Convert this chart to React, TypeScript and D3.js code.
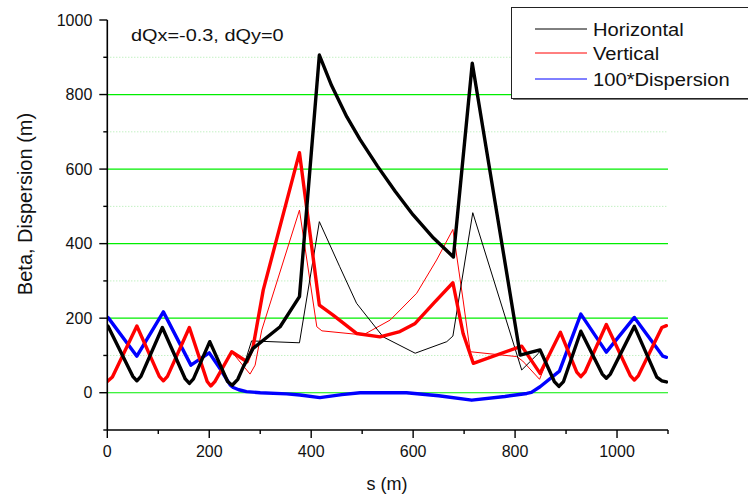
import React from "react";
import * as d3 from "d3";

type P = [number, number];

const xMajor = [0, 200, 400, 600, 800, 1000];
const xMinor = [100, 300, 500, 700, 900, 1100];
const yMajor = [0, 200, 400, 600, 800, 1000];
const yMinor = [-100, 100, 300, 500, 700, 900];
const gridMajor = [0, 200, 400, 600, 800];
const gridMinor = [100, 300, 500, 700, 900];

// thick = dQx=-0.3 case, thin = nominal
const horizThick: P[] = [
  [0, 180], [2, 177], [50, 44], [58, 32], [66, 44], [108, 175], [153, 37], [161, 25], [169, 37],
  [201, 137], [236, 30], [245, 20], [256, 36], [267, 70], [286, 119], [339, 177], [377, 258],
  [416, 906], [440, 824], [470, 740], [496, 679], [530, 608], [565, 540], [600, 477], [640, 415],
  [679, 364], [716, 884], [810, 101], [830, 108], [849, 115], [877, 30], [886, 17], [895, 30],
  [929, 165], [971, 50], [979, 39], [987, 50], [1034, 178], [1078, 42], [1088, 32], [1097, 29],
];
const horizThin: P[] = [
  [0, 180], [2, 177], [50, 44], [58, 32], [66, 44], [108, 175], [153, 37], [161, 25], [169, 37],
  [201, 137], [236, 30], [245, 20], [255, 35], [264, 60], [273, 95], [283, 139], [377, 134],
  [416, 459], [456, 338], [489, 240], [541, 150], [604, 106], [666, 137], [678, 152], [717, 483],
  [813, 61], [846, 106], [849, 115], [877, 30], [886, 17], [895, 30], [929, 165], [971, 50],
  [979, 39], [987, 50], [1034, 178], [1078, 42], [1088, 32], [1097, 29],
];
const vertThick: P[] = [
  [0, 30], [10, 42], [58, 179], [102, 44], [110, 32], [118, 44], [161, 175], [196, 30], [203, 18],
  [211, 30], [244, 110], [274, 83], [286, 123], [306, 276], [377, 644], [416, 235], [443, 208],
  [489, 159], [535, 150], [574, 164], [604, 186], [640, 240], [678, 295], [698, 159], [718, 79],
  [813, 125], [849, 52], [889, 162], [921, 55], [929, 43], [937, 55], [979, 183], [1026, 46],
  [1034, 34], [1042, 46], [1088, 175], [1097, 180],
];
const vertThin: P[] = [
  [0, 30], [10, 42], [58, 179], [102, 44], [110, 32], [118, 44], [161, 175], [196, 30], [203, 18],
  [211, 30], [244, 110], [262, 80], [280, 50], [290, 74], [303, 168], [377, 490], [411, 177],
  [421, 166], [502, 155], [555, 195], [607, 267], [646, 356], [678, 438], [698, 249], [712, 110],
  [803, 97], [815, 85], [848, 36], [870, 110], [889, 162], [921, 55], [929, 43], [937, 55],
  [979, 183], [1026, 46], [1034, 34], [1042, 46], [1088, 175], [1097, 180],
];
const dispersion: P[] = [
  [0, 203], [2, 201], [58, 98], [110, 217], [164, 74], [200, 107], [221, 65], [241, 21], [247, 14],
  [258, 8], [273, 3], [300, 0], [352, -3], [378, -6], [417, -13], [460, -5], [496, 0], [587, 0],
  [650, -8], [715, -20], [780, -10], [823, -2], [832, 1], [849, 16], [887, 58], [929, 211],
  [979, 109], [1034, 202], [1090, 98], [1097, 95],
];

const legendItems = [
  { label: "Horizontal", color: "#000" },
  { label: "Vertical", color: "#ff0000" },
  { label: "100*Dispersion", color: "#0000ff" },
];

const FONT = "'Liberation Sans', Arial, sans-serif";

export default function App() {
  const W = 748, H = 496;
  const x = d3.scaleLinear().domain([0, 1100]).range([107.3, 668]);
  const y = d3.scaleLinear().domain([-100, 1000]).range([430, 20]);
  const line = d3.line<P>().x((d) => x(d[0])).y((d) => y(d[1]));
  const x0 = x(0), x1 = x(1100), yb = y(-100), yt = y(1000);

  return (
    <svg width={W} height={H} style={{ position: "absolute", left: 0, top: 0, background: "#fff" }}
      fontFamily={FONT}>
      {gridMinor.map((v) => (
        <line key={"gm" + v} x1={x0} x2={x1} y1={y(v)} y2={y(v)}
          stroke="#a8eaa8" strokeWidth={1} strokeDasharray="1 2" />
      ))}
      {gridMajor.map((v) => (
        <line key={"gM" + v} x1={x0} x2={x1} y1={y(v)} y2={y(v)} stroke="#00ee00" strokeWidth={1.2} />
      ))}
      <defs>
        <clipPath id="plot">
          <rect x={x0} y={yt} width={x1 - x0} height={yb - yt} />
        </clipPath>
      </defs>
      <g clipPath="url(#plot)" fill="none" strokeLinejoin="round" strokeLinecap="round">
        <path d={line(dispersion) || ""} stroke="#0000ff" strokeWidth={3.4} />
        <path d={line(dispersion) || ""} stroke="#0000ff" strokeWidth={1} />
        <path d={line(vertThin) || ""} stroke="#ff0000" strokeWidth={1} />
        <path d={line(horizThin) || ""} stroke="#000" strokeWidth={1} />
        <path d={line(vertThick) || ""} stroke="#ff0000" strokeWidth={3.4} />
        <path d={line(horizThick) || ""} stroke="#000" strokeWidth={3.4} />
      </g>
      {/* axes */}
      <line x1={x0} x2={x0} y1={yt} y2={yb} stroke="#000" strokeWidth={1.6} />
      <line x1={x0} x2={x1} y1={yb} y2={yb} stroke="#000" strokeWidth={1.6} />
      {yMajor.map((v) => (
        <g key={"ym" + v}>
          <line x1={x0 - 8} x2={x0} y1={y(v)} y2={y(v)} stroke="#000" strokeWidth={1.4} />
          <text x={x0 - 15} y={y(v)} dy="0.36em" textAnchor="end" fontSize={16} fill="#111">{v}</text>
        </g>
      ))}
      {yMinor.map((v) => (
        <line key={"yn" + v} x1={x0 - 4} x2={x0} y1={y(v)} y2={y(v)} stroke="#000" strokeWidth={1.4} />
      ))}
      {xMajor.map((v) => (
        <g key={"xm" + v}>
          <line x1={x(v)} x2={x(v)} y1={yb} y2={yb + 8} stroke="#000" strokeWidth={1.4} />
          <text x={x(v)} y={457} textAnchor="middle" fontSize={16} fill="#111">{v}</text>
        </g>
      ))}
      {xMinor.map((v) => (
        <line key={"xn" + v} x1={x(v)} x2={x(v)} y1={yb} y2={yb + 4} stroke="#000" strokeWidth={1.4} />
      ))}
      <text x={387} y={490} textAnchor="middle" fontSize={18} fill="#111">s (m)</text>
      <text transform="translate(32,204) rotate(-90)" textAnchor="middle" fontSize={20} fill="#111">
        Beta, Dispersion (m)
      </text>
      <text transform="translate(131,41) scale(1.17,1)" fontSize={17} fill="#111">dQx=-0.3, dQy=0</text>
      {/* legend */}
      <rect x={513} y={9} width={250} height={91} fill="#777" />
      <rect x={511.5} y={7.5} width={250} height={91} fill="#fff" stroke="#222" strokeWidth={1} />
      {legendItems.map((it, i) => {
        const ly = [29, 53, 79][i];
        return (
          <g key={it.label}>
            <line x1={535} x2={587} y1={ly} y2={ly} stroke={it.color} strokeWidth={1} />
            <text transform={`translate(593,${ly}) scale(1.09,1)`} dy="0.36em" fontSize={18.5}
              fill="#111">{it.label}</text>
          </g>
        );
      })}
    </svg>
  );
}
